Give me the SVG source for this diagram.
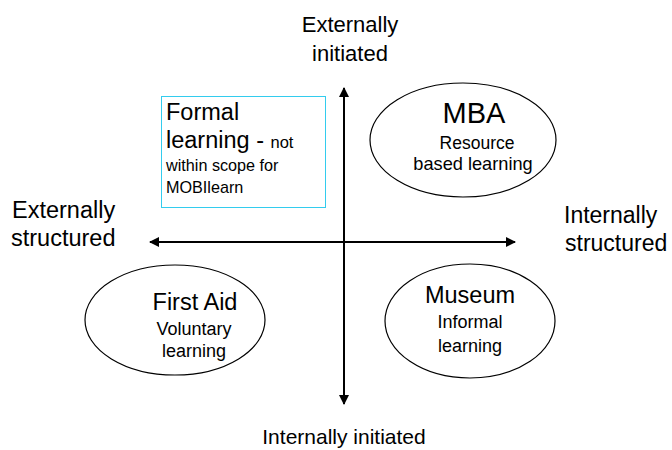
<svg xmlns="http://www.w3.org/2000/svg" width="672" height="450" viewBox="0 0 672 450">
<defs>
<marker id="ah" viewBox="0 0 10 10" refX="9" refY="5" markerWidth="5" markerHeight="5" orient="auto-start-reverse" markerUnits="strokeWidth">
<path d="M0,0 L10,5 L0,10 z" fill="#000"/>
</marker>
<style>
text{font-family:"Liberation Sans",Arial,sans-serif;fill:#000}
.ell{fill:#fff;stroke:#000;stroke-width:1.2}
.c{text-anchor:middle}
</style>
</defs>
<rect width="672" height="450" fill="#fff"/>
<g id="connectors">
<line x1="344" y1="404" x2="344" y2="88" stroke="#000" stroke-width="2" marker-start="url(#ah)" marker-end="url(#ah)"/>
<line x1="150" y1="242" x2="515" y2="242" stroke="#000" stroke-width="2" marker-start="url(#ah)" marker-end="url(#ah)"/>
</g>
<g id="top-label" font-size="22"><text class="c" x="350" y="32">Externally</text><text class="c" x="350" y="61">initiated</text></g>
<g id="left-label" font-size="23.5"><text x="12" y="218">Externally</text><text x="11" y="246">structured</text></g>
<g id="right-label" font-size="23"><text x="564" y="223">Internally</text><text x="565" y="251">structured</text></g>
<g id="bottom-label" font-size="21"><text class="c" x="344" y="444">Internally initiated</text></g>
<g id="formal">
<rect x="161.5" y="96.5" width="164" height="111" fill="#fff" stroke="#33ccee" stroke-width="1"/>
<text x="166" y="120" font-size="23.5">Formal</text>
<text x="166" y="148" font-size="23.5">learning - <tspan font-size="16.5">not</tspan></text>
<text x="166" y="171" font-size="16.2">within scope for</text>
<text x="166" y="193" font-size="16.2">MOBIlearn</text>
</g>
<g id="mba">
<ellipse class="ell" cx="463" cy="140" rx="93" ry="57"/>
<text class="c" x="474" y="123" font-size="29">MBA</text>
<text class="c" x="477" y="149" font-size="17.5">Resource</text>
<text class="c" x="473" y="170" font-size="18.2">based learning</text>
</g>
<g id="firstaid">
<ellipse class="ell" cx="175" cy="320" rx="90" ry="55"/>
<text class="c" x="195" y="310" font-size="23.5">First Aid</text>
<text class="c" x="194" y="335" font-size="18">Voluntary</text>
<text class="c" x="194" y="357" font-size="18">learning</text>
</g>
<g id="museum">
<ellipse class="ell" cx="470" cy="321" rx="85" ry="57"/>
<text class="c" x="470" y="303" font-size="23.5">Museum</text>
<text class="c" x="470" y="328" font-size="18">Informal</text>
<text class="c" x="470" y="352" font-size="18">learning</text>
</g>
</svg>
